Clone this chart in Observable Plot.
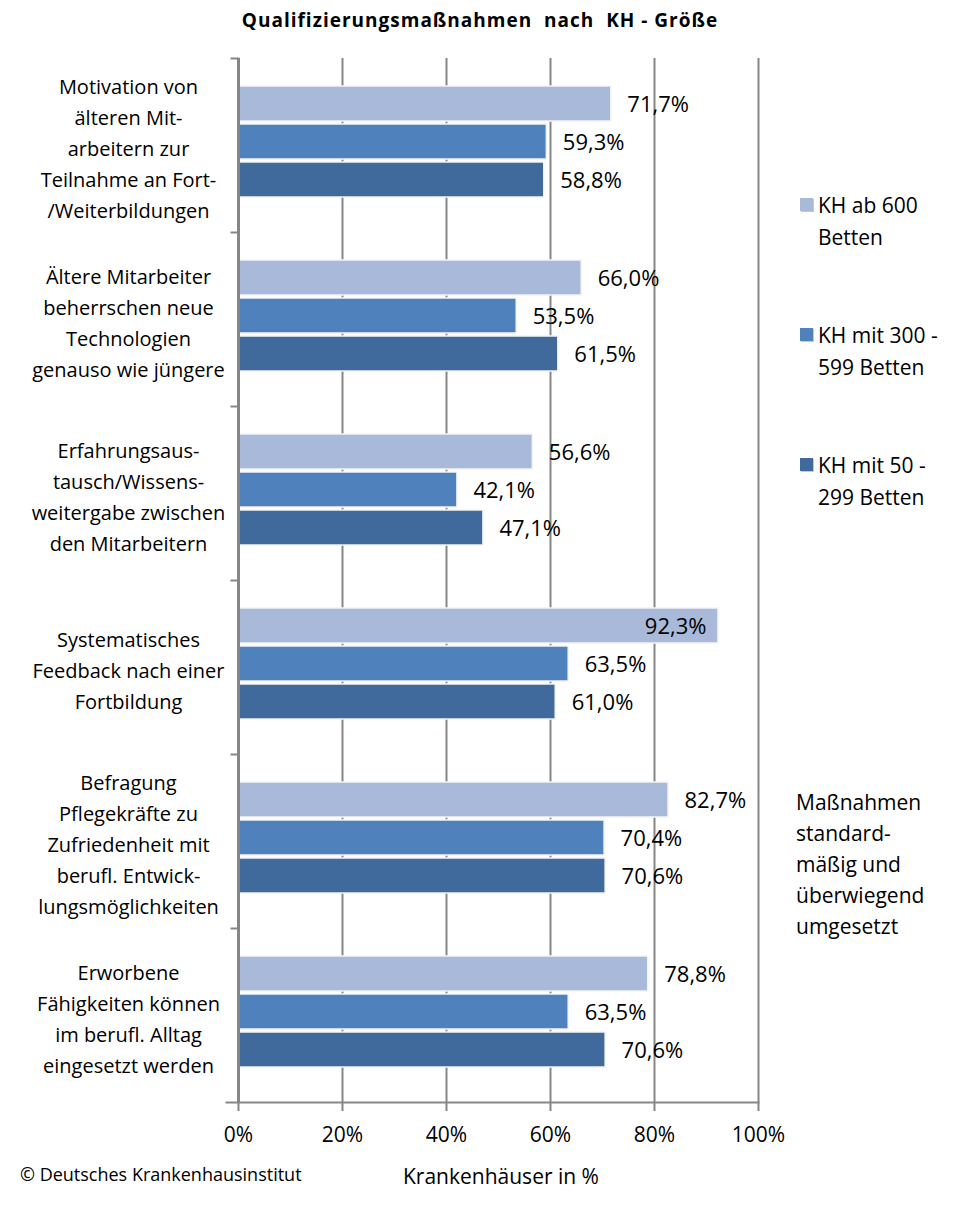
<!DOCTYPE html>
<html>
<head>
<meta charset="utf-8">
<script src="https://cdn.jsdelivr.net/npm/d3@7"></script>
<script src="https://cdn.jsdelivr.net/npm/@observablehq/plot@0.6"></script>
<style>
  html, body { margin: 0; padding: 0; background: #fff; }
  #wrap { position: relative; width: 954px; height: 1213px; font-family: "Open Sans", Lato, sans-serif; color: #000; }
  #chart { position: absolute; left: 0; top: 0; }
  .abs { position: absolute; white-space: nowrap; }
  #title { left: 0; width: 960px; top: 7px; text-align: center; font-weight: bold; font-size: 19px; letter-spacing: 1px; }
  .leg { left: 800px; font-size: 21px; line-height: 32px; }
  .leg .sw { position: absolute; left: 0; top: 9px; width: 13px; height: 13px; box-shadow: 1px 1px 0 #c8c8c8; }
  .leg .tx { margin-left: 18px; }
  #note { left: 796px; top: 787px; font-size: 21px; line-height: 31px; }
  #src { left: 20px; top: 1162px; font-size: 18px; }
  #xlab { left: 403px; top: 1162px; font-size: 21px; }
</style>
</head>
<body>
<div id="wrap">
  <div id="chart"></div>
  <div id="title" class="abs">Qualifizierungsmaßnahmen&nbsp; nach&nbsp; KH - Größe</div>
  <div id="legend"></div>
  <div id="note" class="abs">Maßnahmen<br>standard-<br>mäßig und<br>überwiegend<br>umgesetzt</div>
  <div id="src" class="abs">© Deutsches Krankenhausinstitut</div>
  <div id="xlab" class="abs">Krankenhäuser in %</div>
</div>
<script>
const categories = [
  "Motivation von\nälteren Mit-\narbeitern zur\nTeilnahme an Fort-\n/Weiterbildungen",
  "Ältere Mitarbeiter\nbeherrschen neue\nTechnologien\ngenauso wie jüngere",
  "Erfahrungsaus-\ntausch/Wissens-\nweitergabe zwischen\nden Mitarbeitern",
  "Systematisches\nFeedback nach einer\nFortbildung",
  "Befragung\nPflegekräfte zu\nZufriedenheit mit\nberufl. Entwick-\nlungsmöglichkeiten",
  "Erworbene\nFähigkeiten können\nim berufl. Alltag\neingesetzt werden"
];
const seriesNames = ["KH ab 600 Betten", "KH mit 300 - 599 Betten", "KH mit 50 - 299 Betten"];
const legendLines = [["KH ab 600", "Betten"], ["KH mit 300 -", "599 Betten"], ["KH mit 50 -", "299 Betten"]];
const seriesColors = ["#a9b9d9", "#4f81bd", "#3f6a9b"];
const kh600 = [71.7, 66.0, 56.6, 92.3, 82.7, 78.8];
const kh300 = [59.3, 53.5, 42.1, 63.5, 70.4, 63.5];
const kh50  = [58.8, 61.5, 47.1, 61.0, 70.6, 70.6];
const xTicks = [0, 20, 40, 60, 80, 100];

const seriesValues = [kh600, kh300, kh50];
const data = [];
categories.forEach((c, i) => {
  seriesNames.forEach((s, j) => data.push({category: c, series: s, value: seriesValues[j][i]}));
});
const fmt = v => v.toFixed(1).replace(".", ",") + "%";
const lastCat = categories[categories.length - 1];
const grey = "#868686";
const font = "'Open Sans', Lato, sans-serif";

const chart = Plot.plot({
  width: 954,
  height: 1213,
  marginLeft: 238,
  marginRight: 196,
  marginTop: 56,
  marginBottom: 110,
  style: {fontFamily: font, color: "#000", background: "#fff"},
  x: {domain: [0, 100], axis: null, label: null},
  y: {domain: seriesNames, axis: null, paddingInner: 0.077, paddingOuter: 0.77, align: 0.45},
  fy: {domain: categories, axis: null, padding: 0},
  color: {domain: seriesNames, range: seriesColors},
  marks: [
    Plot.ruleX(xTicks.slice(1), {stroke: grey, strokeWidth: 2, strokeOpacity: 1}),
    Plot.barX(data, {fy: "category", y: "series", x: "value", fill: "series", stroke: "#f4f4f4", strokeWidth: 1.5}),
    Plot.ruleX([0], {stroke: grey, strokeWidth: 3, strokeOpacity: 1}),
    Plot.frame({anchor: "top", insetLeft: -7, insetRight: 520, stroke: grey, strokeWidth: 2}),
    Plot.frame({anchor: "bottom", fy: () => lastCat, insetLeft: -12, stroke: grey, strokeWidth: 2}),
    Plot.text(data.filter(d => d.value < 85), {fy: "category", y: "series", x: "value", text: d => fmt(d.value), textAnchor: "start", dx: 16, dy: 1, fontSize: 22, fill: "#000"}),
    Plot.text(data.filter(d => d.value >= 85), {fy: "category", y: "series", x: "value", text: d => fmt(d.value), textAnchor: "end", dx: -12, dy: 1, fontSize: 22, fill: "#000"}),
    Plot.text(categories, {fy: d => d, text: d => d, frameAnchor: "left", dx: -110, dy: 1, textAnchor: "middle", lineAnchor: "middle", fontSize: 20, lineHeight: 1.55, fill: "#000"}),
    Plot.axisX(xTicks, {label: null, tickFormat: d => d + "%", tickSize: 9, tickPadding: 16, fontSize: 21, stroke: grey, strokeWidth: 2, strokeOpacity: 1, fill: "#000"})
  ]
});
document.getElementById("chart").appendChild(chart);

const legend = document.getElementById("legend");
const legendTops = [189, 319, 449];
legendLines.forEach((lines, i) => {
  const d = document.createElement("div");
  d.className = "abs leg";
  d.style.top = legendTops[i] + "px";
  d.innerHTML = `<span class="sw" style="background:${seriesColors[i]}"></span><div class="tx">${lines[0]}<br>${lines[1]}</div>`;
  legend.appendChild(d);
});
</script>
</body>
</html>
